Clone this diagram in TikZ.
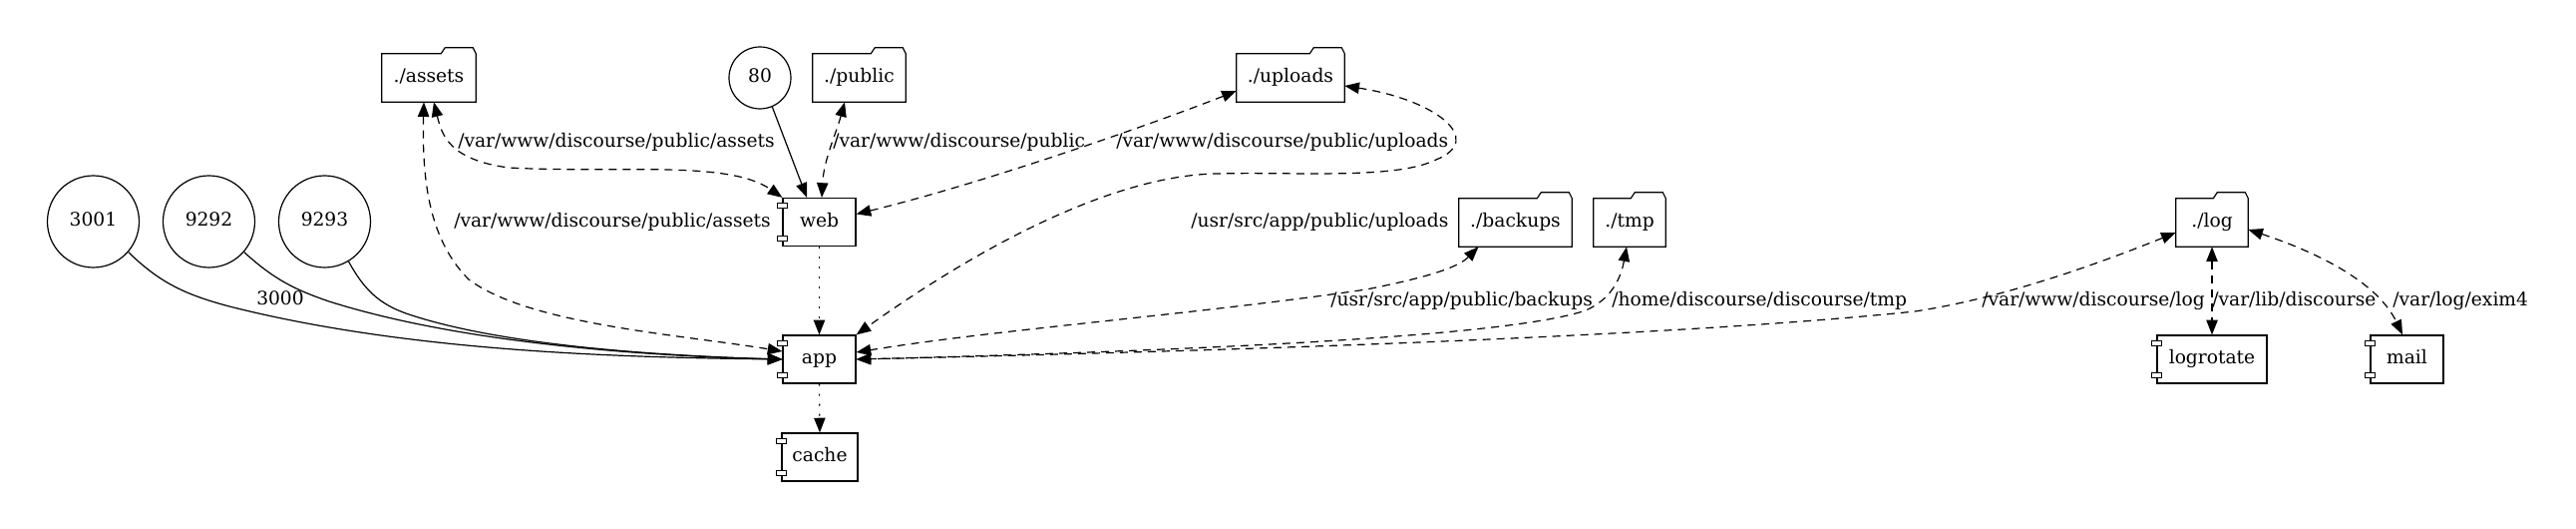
\documentclass[tikz,border=0pt]{standalone}
\usepackage{fontspec}
\setmainfont{DejaVu Serif}
\usetikzlibrary{arrows.meta,calc}
\begin{document}
\begin{tikzpicture}[x=0.75pt,y=-0.75pt,
  every node/.style={font=\fontsize{14pt}{16pt}\selectfont, inner sep=0pt, text height=10pt, text depth=3pt},
  portc/.style={circle, draw, line width=0.9pt, minimum size=#1*0.75pt},
  compbox/.style={rectangle, draw, line width=0.9pt, minimum width=#1*0.75pt, minimum height=48*0.75pt},
  foldbox/.style={rectangle, minimum width=#1*0.75pt, minimum height=48*0.75pt},
  elabel/.style={anchor=west},
  solidarrow/.style={line width=0.9pt, -{Triangle[length=11pt,width=8.5pt]}},
  mnt/.style={line width=0.9pt, dash pattern=on 6pt off 4.5pt, {Triangle[length=11pt,width=8.5pt]}-{Triangle[length=11pt,width=8.5pt]}},
  dotarr/.style={line width=0.9pt, dash pattern=on 1.5pt off 6pt, -{Triangle[length=11pt,width=8.5pt]}},
]
\useasboundingbox (0,0) rectangle (2583,530);

% nodes
\node[portc=92] (p3001) at (93.5,222) {3001};
\node[portc=92] (p9292) at (209.5,222) {9292};
\node[portc=92] (p9293) at (325.5,222) {9293};
\node[portc=62] (p80) at (762,78) {80};
\node[foldbox=94] (assets) at (430,78) {./assets};
\node[foldbox=93] (public) at (861.5,78) {./public};
\node[foldbox=108] (uploads) at (1294,78) {./uploads};
\node[compbox=73] (web) at (821.5,222.5) {web};
\node[foldbox=113] (backups) at (1519.5,223) {./backups};
\node[foldbox=72] (tmp) at (1634,223) {./tmp};
\node[foldbox=72] (log) at (2218,223) {./log};
\node[compbox=73] (app) at (821.5,360) {app};
\node[compbox=110] (logrotate) at (2218,360) {logrotate};
\node[compbox=73] (mail) at (2413.5,360) {mail};
\node[compbox=76] (cache) at (822,458) {cache};

% folder outlines
\foreach \n in {assets,public,uploads,backups,tmp,log}{
  \draw[line width=0.9pt, line join=miter] (\n.south west) -- (\n.north west) -- ($(\n.north east)+(-35,0)$) -- ++(4,-6) -- ($(\n.north east)+(-3,-6)$) -- (\n.north east) -- (\n.south east) -- cycle;
}
% component tabs
\foreach \n in {web,app,cache,logrotate,mail}{
  \draw[line width=0.75pt, fill=white] ($(\n.north west)+(-5,6)$) rectangle ++(10,5);
  \draw[line width=0.75pt, fill=white] ($(\n.south west)+(-5,-11)$) rectangle ++(10,5);
}

% port edges
\draw[solidarrow] (p3001.-41) .. controls (160,283) and (185,295) .. (230,307) .. controls (400,350) and (600,358) .. (app.west);
\draw[solidarrow] (p9292.-41) .. controls (275,280) and (295,290) .. (330,302) .. controls (450,340) and (620,356) .. (app.west);
\draw[solidarrow] (p9293.-59) .. controls (365,290) and (380,305) .. (410,315) .. controls (500,345) and (650,356) .. (app.west);
\node (l3000) at (281,301) {3000};
\draw[solidarrow] (p80.-67) -- ($(web.north)+(-12.5,0)$);

% volume edges
\draw[mnt] ($(assets.south)+(5,0)$) .. controls (443,135) and (450,160) .. (510,168) .. controls (620,174) and (730,160) .. (web.north west);
\draw[mnt] ($(assets.south)+(-5,0)$) .. controls (423,180) and (430,240) .. (470,280) .. controls (530,325) and (680,335) .. ($(app.west)+(0,-8)$);
\draw[mnt] ($(public.south)+(-14.5,0)$) .. controls (838,135) and (826,160) .. ($(web.north)+(2.5,0)$);
\draw[mnt] ($(uploads.west)+(0,13)$) .. controls (1180,115) and (1000,180) .. ($(web.east)+(0,-8)$);
\draw[mnt] ($(uploads.east)+(0,8)$) .. controls (1440,100) and (1490,140) .. (1440,160) .. controls (1400,180) and (1300,172) .. (1220,174) .. controls (1100,176) and (950,270) .. (app.north east);
\draw[mnt] ($(backups.south)+(-37,0)$) .. controls (1460,270) and (1420,280) .. (1370,290) .. controls (1200,315) and (1000,330) .. ($(app.east)+(0,-7)$);
\draw[mnt] ($(tmp.south)+(-3,0)$) .. controls (1625,280) and (1615,300) .. (1590,311) .. controls (1520,335) and (1250,350) .. (app.east);
\draw[mnt] ($(log.west)+(0,10)$) .. controls (2090,270) and (2000,300) .. (1920,312) .. controls (1700,335) and (1300,350) .. (app.east);
\draw[mnt] (log.south) -- (logrotate.north);
\draw[mnt] ($(log.east)+(0,7)$) .. controls (2330,255) and (2385,285) .. ($(mail.north)+(-4.5,0)$);

% dependencies
\draw[dotarr] (web.south) -- (app.north);
\draw[dotarr] (app.south) -- (cache.north);

% labels
\node[elabel] (la1) at (459,142.8) {/var/www/discourse/public/assets};
\node[elabel] (la2) at (455,222.8) {/var/www/discourse/public/assets};
\node[elabel] (lpub) at (835,142.8) {/var/www/discourse/public};
\node[elabel] (lup1) at (1119,142.8) {/var/www/discourse/public/uploads};
\node[elabel] (lup2) at (1194,222.8) {/usr/src/app/public/uploads};
\node[elabel] (lbk) at (1334,301.8) {/usr/src/app/public/backups};
\node[elabel] (ltmp) at (1616,301.8) {/home/discourse/discourse/tmp};
\node[elabel] (llog) at (1987,301.8) {/var/www/discourse/log};
\node[elabel] (llib) at (2218,301.8) {/var/lib/discourse};
\node[elabel] (lex) at (2399,301.8) {/var/log/exim4};
\end{tikzpicture}
\end{document}
